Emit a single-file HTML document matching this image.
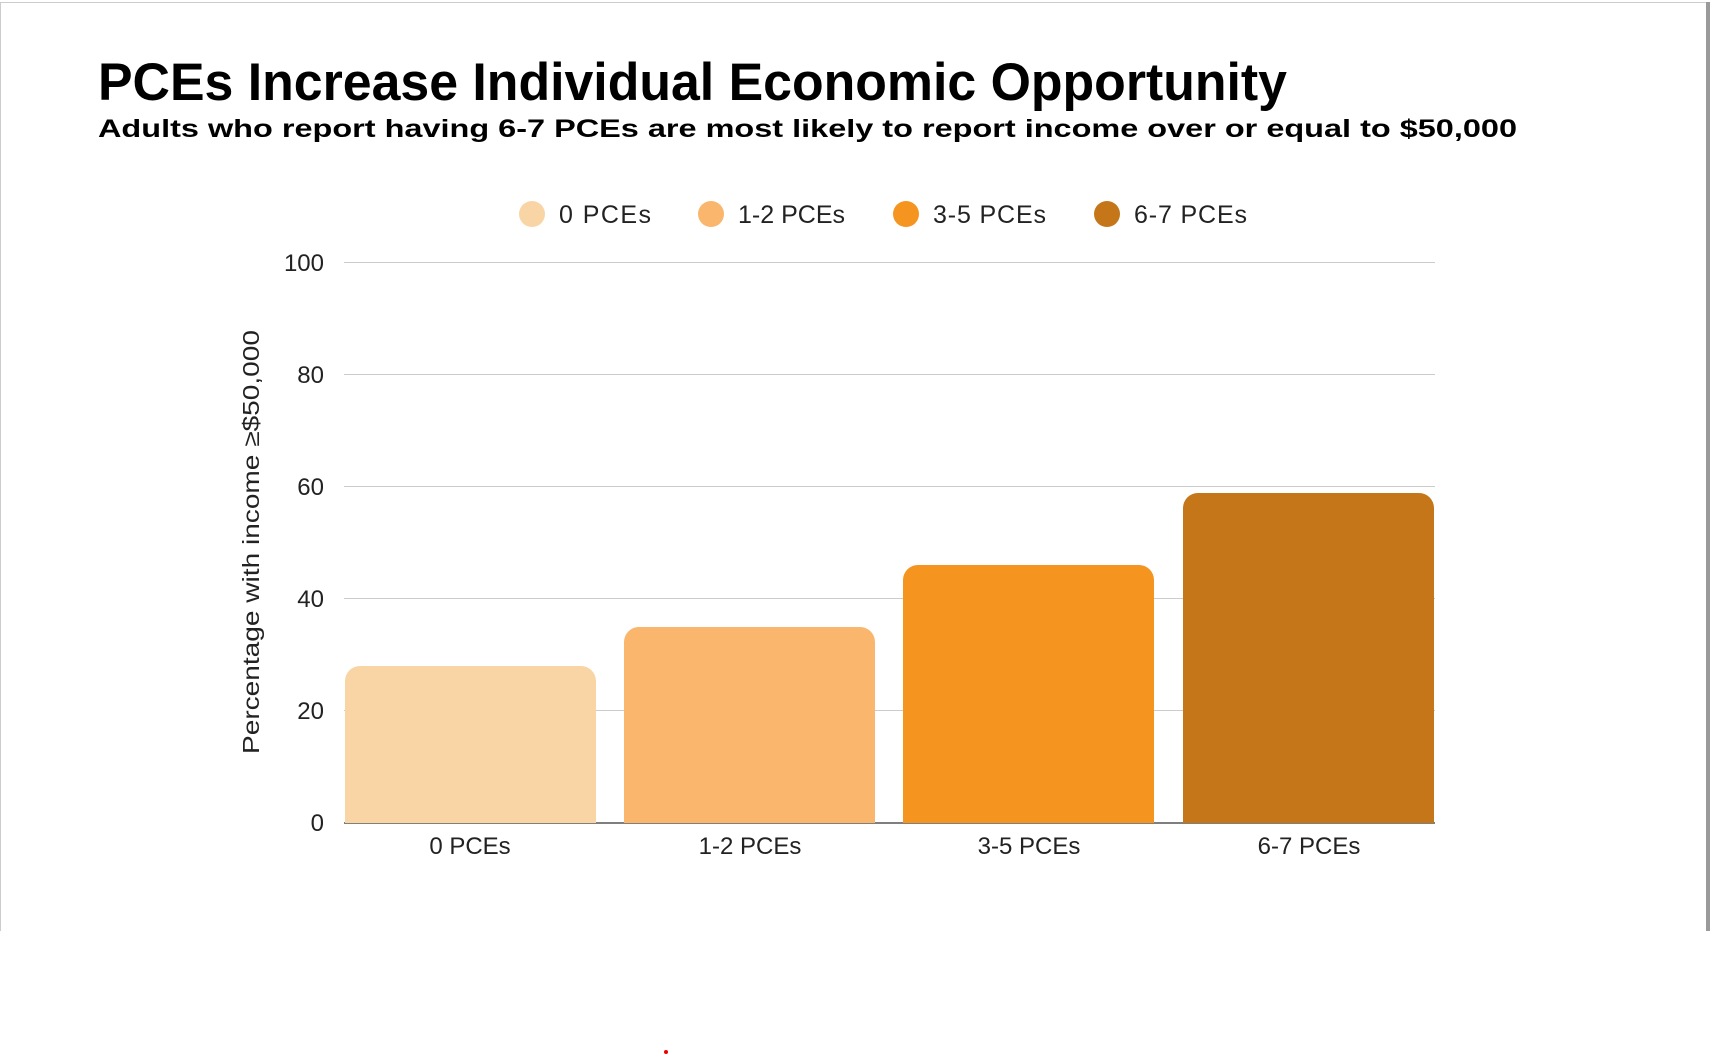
<!DOCTYPE html>
<html><head><meta charset="utf-8"><style>
body{margin:0;width:1711px;height:1056px;background:#fff;overflow:hidden;font-family:"Liberation Sans",sans-serif;}
</style></head><body>
<svg width="1711" height="1056" xmlns="http://www.w3.org/2000/svg" font-family="Liberation Sans, sans-serif">
<line x1="0" y1="2.5" x2="1706" y2="2.5" stroke="#ccc" stroke-width="1"/>
<line x1="0.5" y1="2" x2="0.5" y2="931" stroke="#ccc" stroke-width="1"/>
<rect x="1706" y="2" width="4" height="929" fill="#9a9a9a"/>
<text x="98" y="100" font-size="53" font-weight="bold" fill="#000" textLength="1189" lengthAdjust="spacingAndGlyphs">PCEs Increase Individual Economic Opportunity</text>
<text x="98" y="137" font-size="25" font-weight="bold" fill="#000" textLength="1419" lengthAdjust="spacingAndGlyphs">Adults who report having 6-7 PCEs are most likely to report income over or equal to $50,000</text>
<g font-size="25" fill="#222">
<circle cx="532" cy="214" r="13" fill="#F9D5A6"/><text x="559" y="223" textLength="92">0 PCEs</text>
<circle cx="711" cy="214" r="13" fill="#F9B66C"/><text x="738" y="223" textLength="107">1-2 PCEs</text>
<circle cx="906" cy="214" r="13" fill="#F69420"/><text x="933" y="223" textLength="113">3-5 PCEs</text>
<circle cx="1107" cy="214" r="13" fill="#C47619"/><text x="1134" y="223" textLength="113">6-7 PCEs</text>
</g>
<g stroke="#ccc" stroke-width="1">
<line x1="344" y1="262.5" x2="1435" y2="262.5"/>
<line x1="344" y1="374.5" x2="1435" y2="374.5"/>
<line x1="344" y1="486.5" x2="1435" y2="486.5"/>
<line x1="344" y1="598.5" x2="1435" y2="598.5"/>
<line x1="344" y1="710.5" x2="1435" y2="710.5"/>
</g>
<line x1="344" y1="823" x2="1435" y2="823" stroke="#555" stroke-width="1.5"/>
<g font-size="24" fill="#222" text-anchor="end">
<text x="324" y="271">100</text><text x="324" y="383">80</text><text x="324" y="495">60</text>
<text x="324" y="607">40</text><text x="324" y="719">20</text><text x="324" y="831">0</text>
</g>
<path d="M345 823 V681 a15 15 0 0 1 15 -15 H581 a15 15 0 0 1 15 15 V823 Z" fill="#F9D5A6"/>
<path d="M624 823 V642 a15 15 0 0 1 15 -15 H860 a15 15 0 0 1 15 15 V823 Z" fill="#F9B66C"/>
<path d="M903 823 V580 a15 15 0 0 1 15 -15 H1139 a15 15 0 0 1 15 15 V823 Z" fill="#F69420"/>
<path d="M1183 823 V508 a15 15 0 0 1 15 -15 H1419 a15 15 0 0 1 15 15 V823 Z" fill="#C47619"/>
<g font-size="24" fill="#222" text-anchor="middle">
<text x="470" y="854">0 PCEs</text><text x="750" y="854">1-2 PCEs</text>
<text x="1029" y="854">3-5 PCEs</text><text x="1309" y="854">6-7 PCEs</text>
</g>
<text transform="translate(259,542) rotate(-90)" font-size="23" fill="#222" text-anchor="middle" textLength="424" lengthAdjust="spacingAndGlyphs">Percentage with income ≥$50,000</text>
<circle cx="666" cy="1052" r="2" fill="#e00"/>
</svg>
</body></html>
